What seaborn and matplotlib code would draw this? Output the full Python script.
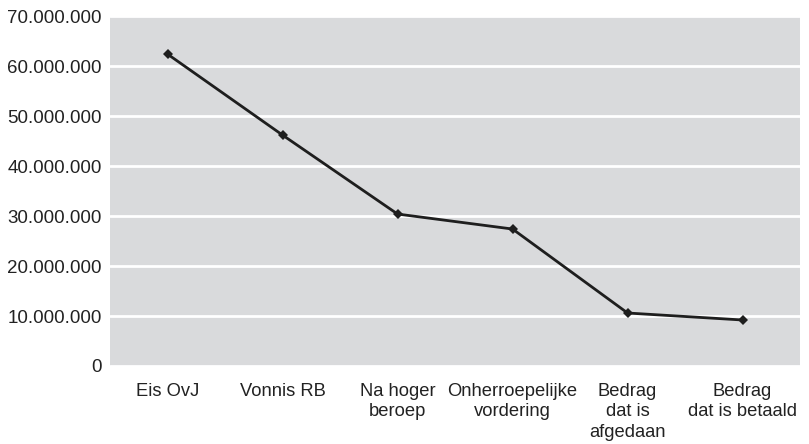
import pandas as pd
import matplotlib.pyplot as plt
import seaborn as sns
from matplotlib.ticker import FuncFormatter, FixedLocator

# data
categories = ["Eis OvJ", "Vonnis RB", "Na hoger\nberoep", "Onherroepelijke\nvordering",
              "Bedrag\ndat is\nafgedaan", "Bedrag\ndat is betaald"]
amounts = [62400000, 46200000, 30400000, 27400000, 10600000, 9200000]
y_ticks = [0, 10000000, 20000000, 30000000, 40000000, 50000000, 60000000, 70000000]

df = pd.DataFrame({"pos": range(len(categories)), "bedrag": amounts})

sns.set_style("white", {"axes.facecolor": "#d9dadc"})
plt.rcParams['font.family'] = ['Liberation Sans', 'DejaVu Sans']

fig = plt.figure(figsize=(8.09, 4.44), dpi=100)
ax = fig.add_axes([0.136, 0.1757, 0.853, 0.788])

sns.lineplot(data=df, x="pos", y="bedrag", ax=ax, color="#1e1e1e",
             linewidth=2, marker="D", markersize=5, markeredgewidth=0)

ax.set_xlim(-0.5, len(categories) - 0.5)
ax.set_ylim(0, 70000000)
ax.set_yticks(y_ticks)
ax.yaxis.set_major_formatter(FuncFormatter(lambda v, p: f"{int(v):,}".replace(",", ".")))
ax.grid(axis="y", color="white", linewidth=2)
ax.set_axisbelow(True)

ax.set_xticks(range(len(categories)))
ax.set_xticklabels(categories, multialignment="center", linespacing=1.28)
ax.xaxis.set_minor_locator(FixedLocator([i + 0.5 for i in range(len(categories) - 1)]))
ax.tick_params(axis="x", which="major", length=0, pad=12, labelsize=13.2, labelcolor="#222222")
ax.tick_params(axis="x", which="minor", length=3, width=2, color="white", direction="in")
ax.tick_params(axis="y", length=0, pad=6, labelsize=13.5, labelcolor="#222222")
ax.set_xlabel("")
ax.set_ylabel("")
for s in ax.spines.values():
    s.set_visible(False)

plt.savefig("out.png", dpi=100)
